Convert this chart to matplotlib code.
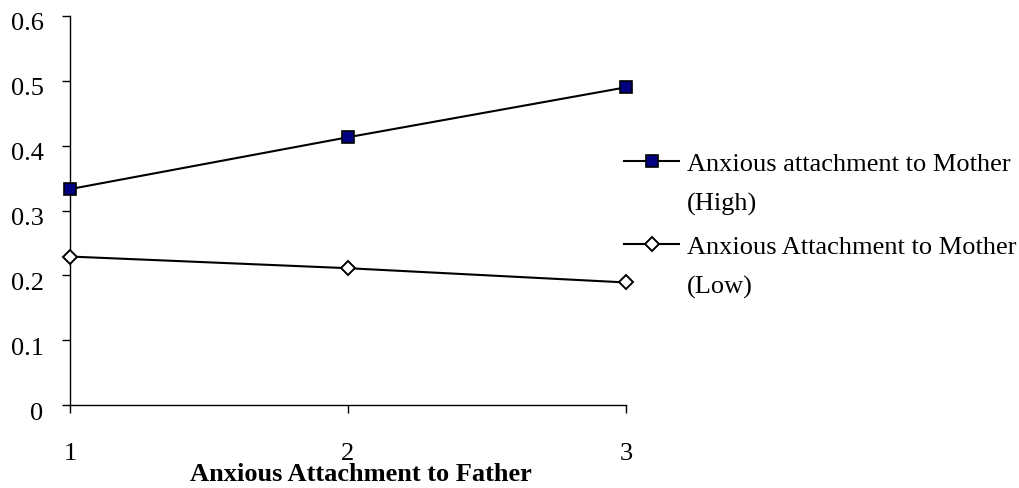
import matplotlib
matplotlib.use("Agg")
import matplotlib.pyplot as plt
from matplotlib.transforms import ScaledTranslation

# values
father_levels = [1, 2, 3]
mother_high = [0.333, 0.413, 0.490]
mother_low = [0.229, 0.211, 0.189]
y_ticks = [0, 0.1, 0.2, 0.3, 0.4, 0.5, 0.6]
label_high = "Anxious attachment to Mother\n(High)"
label_low = "Anxious Attachment to Mother\n(Low)"
x_title = "Anxious Attachment to Father"


def main():
    plt.rcParams['font.family'] = ['Liberation Serif', 'DejaVu Serif']
    fs = 19
    fig = plt.figure(figsize=(10.2, 4.88), dpi=100)
    ax = fig.add_axes([70 / 1020, 1 - 405 / 488, 556 / 1020, 389 / 488])

    ax.plot(father_levels, mother_high, color='black', lw=1.5, marker='s',
            markersize=8, markerfacecolor='#000080', markeredgecolor='black',
            markeredgewidth=1.2, label=label_high, clip_on=False, zorder=3)
    ax.plot(father_levels, mother_low, color='black', lw=1.5, marker='D',
            markersize=7, markerfacecolor='white', markeredgecolor='black',
            markeredgewidth=1.4, label=label_low, clip_on=False, zorder=3)

    ax.set_xlim(1, 3)
    ax.set_ylim(0, 0.6)
    ax.set_xticks(father_levels)
    ax.set_xticklabels([str(v) for v in father_levels])
    ax.set_yticks(y_ticks)
    ax.set_yticklabels(["0" if v == 0 else f"{v:.1f}" for v in y_ticks])

    for side in ['top', 'right']:
        ax.spines[side].set_visible(False)
    ax.spines['left'].set_linewidth(1.0)
    ax.spines['bottom'].set_linewidth(1.0)
    ax.tick_params(axis='y', direction='out', length=6, width=1.0, pad=13,
                   labelsize=fs)
    ax.tick_params(axis='x', direction='out', length=6, width=1.0, pad=21,
                   labelsize=fs)
    # Excel draws the value labels a little below their tick marks
    shift = ScaledTranslation(0, -6 / 100, fig.dpi_scale_trans)
    for lab in ax.get_yticklabels():
        lab.set_transform(lab.get_transform() + shift)

    ax.set_xlabel(x_title, fontsize=fs, fontweight='bold')
    ax.xaxis.set_label_coords((361 - 70) / 556, (405 - 481) / 389)
    ax.xaxis.label.set_va('baseline')

    leg = fig.legend(loc='upper left', bbox_to_anchor=(624 / 1020, 1 - 154 / 488),
                     frameon=False, fontsize=fs, handlelength=2.1,
                     handleheight=0.1, handletextpad=0.3, labelspacing=0.8,
                     borderpad=0, borderaxespad=0)
    for t in leg.get_texts():
        t.set_linespacing(1.95)
    # put each handle beside the first line of its label, as Excel does
    for col in leg._legend_handle_box.get_children():
        for item in col.get_children():
            item.align = 'top'

    fig.savefig("out.png", dpi=100)


if __name__ == '__main__':
    main()
